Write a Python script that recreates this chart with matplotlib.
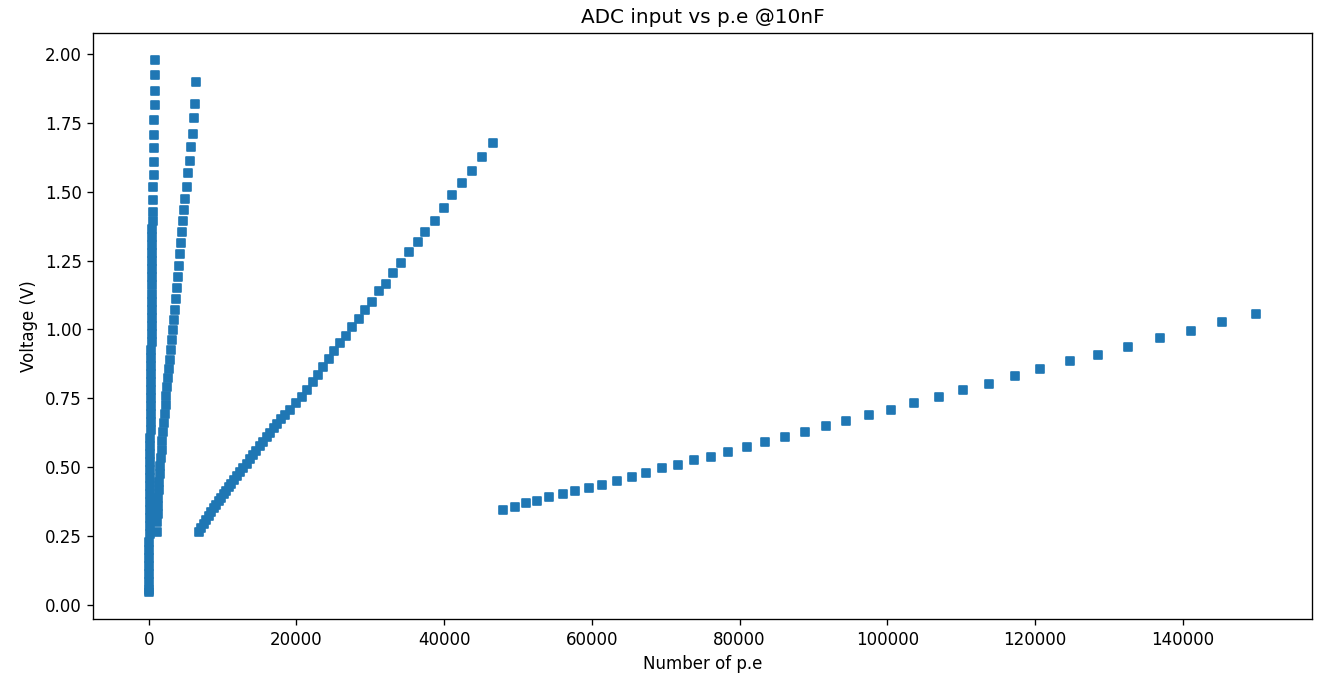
import matplotlib
matplotlib.use("Agg")
import matplotlib.pyplot as plt
import numpy as np

# Range 1 (lowest p.e range)
pe_r1 = [900, 880, 860, 830, 700, 690, 680, 670, 660, 650, 640, 630,
         520, 510, 500, 490, 480, 470, 460, 450, 440, 430, 420, 410, 400, 395,
         390, 385, 380, 375, 370, 365, 360, 355, 350, 345, 340, 335, 330,
         240, 230, 220, 210, 200, 190, 180, 170, 160, 150, 140, 130, 120, 110,
         30, 25, 20, 15, 10, 5, 0]
v_r1 = [1.980, 1.926, 1.867, 1.815, 1.762, 1.707, 1.659, 1.610, 1.561, 1.518, 1.470, 1.427,
        1.393, 1.364, 1.334, 1.305, 1.276, 1.247, 1.218, 1.189, 1.160, 1.130, 1.101, 1.072, 1.043, 1.014,
        0.985, 0.956, 0.926, 0.897, 0.868, 0.839, 0.810, 0.781, 0.752, 0.722, 0.693, 0.664, 0.635,
        0.606, 0.577, 0.548, 0.518, 0.489, 0.460, 0.431, 0.402, 0.373, 0.344, 0.314, 0.285, 0.256, 0.227,
        0.198, 0.169, 0.140, 0.110, 0.081, 0.052, 0.045]

# Range 2
pe_r2 = [6463, 6328, 6192, 6003, 5691, 5556, 5325, 5190, 4973, 4810, 4675, 4512,
         4363, 4200, 4065, 3930, 3794, 3659, 3523, 3388, 3252, 3117, 2981, 2846,
         2737, 2629, 2520, 2412, 2304, 2195, 2087, 1978, 1870, 1762, 1680, 1599,
         1518, 1450, 1382, 1328, 1274, 1220, 1179, 1152]
v_r2 = [1.898, 1.819, 1.767, 1.710, 1.661, 1.612, 1.570, 1.518, 1.473, 1.433, 1.393, 1.353,
        1.313, 1.273, 1.232, 1.192, 1.152, 1.112, 1.072, 1.036, 0.999, 0.963, 0.926, 0.890,
        0.857, 0.824, 0.792, 0.759, 0.726, 0.693, 0.660, 0.628, 0.595, 0.562, 0.533, 0.504,
        0.475, 0.446, 0.416, 0.387, 0.358, 0.329, 0.300, 0.263]

# Range 3
pe_r3 = [6775, 7114, 7453, 7791, 8130, 8496, 8835, 9173, 9512, 9851, 10190, 10528,
         10867, 11206, 11545, 11992, 12398, 12832, 13279, 13726, 14160, 14593, 15041,
         15515, 15989, 16463, 16938, 17439, 17927, 18428, 19106, 19919, 20691, 21450,
         22182, 22940, 23618, 24390, 25068, 25881, 26734, 27547, 28455, 29268, 30257,
         31124, 32073, 33103, 34214, 35271, 36409, 37398, 38753, 39932, 41084, 42412,
         43767, 45081, 46571]
v_r3 = [0.2645, 0.2798, 0.2944, 0.3089, 0.3235, 0.3373, 0.3508, 0.3636, 0.3763, 0.3891,
        0.4018, 0.4146, 0.4273, 0.4401, 0.4528, 0.4674, 0.4820, 0.4965, 0.5129, 0.5293,
        0.5439, 0.5585, 0.5749, 0.5913, 0.6077, 0.6240, 0.6404, 0.6568, 0.6732, 0.6896,
        0.7078, 0.7322, 0.7563, 0.7807, 0.8109, 0.8353, 0.8634, 0.8936, 0.9202, 0.9508,
        0.9756, 1.0076, 1.0393, 1.0721, 1.1013, 1.1413, 1.1668, 1.2033, 1.2423, 1.2823,
        1.3188, 1.3552, 1.3953, 1.4401, 1.4885, 1.5301, 1.5738, 1.6259, 1.6769]

# Range 4 (highest p.e range)
pe_r4 = [48010, 49590, 51080, 52530, 54200, 56060, 57720, 59580, 61380, 63370,
         65410, 67340, 69510, 71720, 73850, 76150, 78500, 80990, 83470, 86180,
         88890, 91640, 94440, 97470, 100450, 103560, 106950, 110260, 113780,
         117250, 120730, 124700, 128550, 132560, 136860, 141060, 145350, 149960]
v_r4 = [0.3435, 0.3556, 0.3679, 0.3774, 0.3920, 0.4007, 0.4138, 0.4237, 0.4357, 0.4492,
        0.4627, 0.4772, 0.4954, 0.5075, 0.5257, 0.5377, 0.5559, 0.5741, 0.5923, 0.6106,
        0.6288, 0.6495, 0.6689, 0.6896, 0.7078, 0.7322, 0.7541, 0.7807, 0.8025, 0.8291,
        0.8561, 0.8838, 0.9056, 0.9362, 0.9675, 0.9945, 1.0259, 1.0565]

pe = np.concatenate([pe_r1, pe_r2, pe_r3, pe_r4])
volt = np.concatenate([v_r1, v_r2, v_r3, v_r4])

DPI = 120
W, H = 1317, 674
fig = plt.figure(figsize=(W / DPI, H / DPI), dpi=DPI)
ax = fig.add_axes([93.3 / W, 1 - 619 / H, (1311.7 - 93.3) / W, (619 - 33) / H])
ax.scatter(pe, volt, marker="s", s=28, color="#1f77b4")
ax.set_title("ADC input vs p.e @10nF", fontsize=12)
ax.set_xlabel("Number of p.e")
ax.set_ylabel("Voltage (V)")
fig.savefig("out.png", dpi=DPI)
